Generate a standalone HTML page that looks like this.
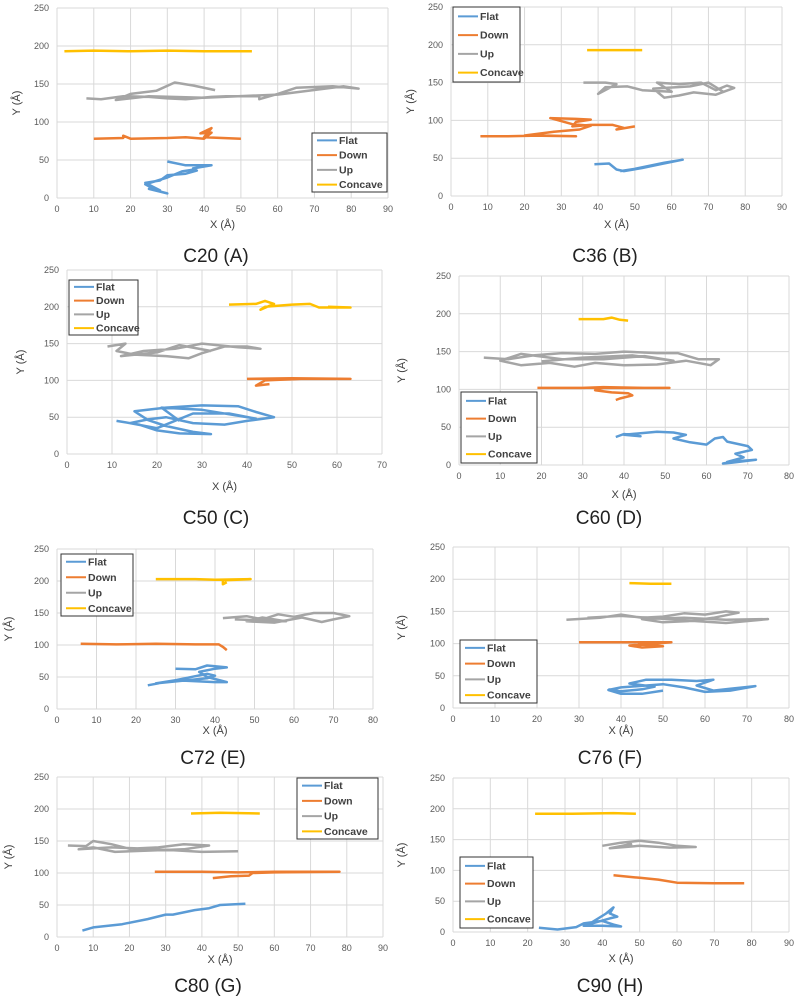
<!DOCTYPE html>
<html><head><meta charset="utf-8">
<style>
html,body{margin:0;padding:0;background:#fff;}
svg{display:block;font-family:"Liberation Sans",sans-serif;}
</style></head>
<body>
<svg id="fig" width="798" height="996" viewBox="0 0 798 996"></svg>
<script>
// ---- data (x, y in Å) ----
const A_flat=[[30,48],[35,43],[42,43],[37,39],[38,36],[35,32],[30,30],[28,23],[24,20],[26,15],[28,10],[25,12],[30,6],[27,10],[24,18],[30,27],[34,35],[38,38]];
const A_down=[[10,78],[18,79],[18,82],[20,78],[30,79],[35,80],[40,78],[42,86],[39,85],[42,92],[40,80],[50,78]];
const A_up=[[8,131],[12,130],[18,134],[25,133],[30,131],[35,130],[42,133],[46,134],[55,134],[55,130],[60,137],[65,145],[75,147],[82,144],[78,147],[60,136],[40,132],[25,134],[16,129],[20,137],[27,141],[32,152],[37,148],[43,142]];
const A_concave=[[2,193],[10,194],[20,193],[30,194],[40,193],[53,193]];

const B_flat=[[39,42],[43,43],[45,35],[47,33],[52,37],[57,42],[63,48],[58,44],[50,36],[46,33]];
const B_down=[[8,79],[15,79],[25,80],[34,79],[20,80],[28,85],[35,88],[38,93],[33,95],[27,103],[34,102],[38,101],[34,98],[33,92],[38,94],[44,94],[47,90],[45,88],[50,92]];
const B_up=[[36,150],[42,150],[45,148],[40,135],[42,144],[48,145],[52,140],[60,138],[56,150],[62,148],[68,150],[72,140],[75,146],[77,143],[72,134],[66,137],[62,133],[58,130],[55,142],[65,145],[70,150],[74,138]];
const B_concave=[[37,193],[45,193],[52,193]];

const C_flat=[[11,45],[16,40],[20,32],[25,28],[32,27],[28,30],[22,38],[18,46],[15,58],[22,63],[30,66],[38,65],[42,57],[46,50],[40,45],[35,40],[28,42],[22,50],[18,47],[14,42],[20,35],[28,55],[36,55],[42,48],[30,60],[21,63],[25,45]];
const C_down=[[40,102],[50,103],[63,102],[52,102],[44,100],[42,93],[45,95]];
const C_up=[[9,146],[13,150],[11,140],[15,135],[22,133],[27,130],[30,137],[35,146],[40,146],[43,143],[38,145],[30,150],[24,143],[17,140],[12,133],[20,138],[25,148],[32,140]];
const C_concave=[[36,203],[42,204],[44,208],[46,204],[43,196],[44,200],[50,203],[54,204],[56,199],[63,199],[58,200]];

const D_flat=[[38,37],[40,41],[44,38],[40,40],[48,44],[52,43],[55,40],[52,35],[56,30],[60,27],[62,35],[64,37],[65,31],[70,25],[71,20],[67,15],[69,10],[65,4],[72,7],[66,3],[64,2],[68,6]];
const D_down=[[19,102],[30,102],[35,103],[45,102],[51,102],[35,102],[33,99],[37,96],[41,95],[42,92],[39,88],[38,86]];
const D_up=[[6,142],[12,140],[18,145],[25,148],[33,147],[40,150],[48,148],[53,148],[58,140],[63,140],[61,132],[55,138],[48,133],[40,132],[33,135],[28,130],[22,135],[15,132],[10,138],[15,147],[25,140],[35,140],[45,144],[52,138],[42,145],[30,142],[20,137]];
const D_concave=[[29,193],[35,193],[37,195],[39,192],[41,191]];

const E_flat=[[23,37],[30,45],[38,55],[40,52],[38,48],[25,40],[30,45],[40,42],[43,42],[38,50],[36,58],[40,63],[43,65],[38,68],[35,62],[30,63]];
const E_down=[[6,102],[15,101],[25,102],[35,101],[41,101],[42,97],[43,92]];
const E_up=[[42,142],[48,145],[52,140],[56,148],[60,144],[65,150],[70,150],[74,145],[70,140],[67,136],[62,143],[55,135],[48,137],[52,143],[58,137],[45,140]];
const E_concave=[[25,203],[35,203],[40,202],[49,203],[42,201],[42,195],[43,198]];

const F_flat=[[37,29],[40,26],[45,29],[48,33],[42,38],[46,44],[52,44],[58,42],[62,44],[58,35],[62,27],[66,30],[72,34],[66,27],[60,25],[55,32],[50,37],[40,32],[37,28],[40,22],[45,22],[50,27]];
const F_down=[[30,102],[40,102],[52,102],[48,100],[42,97],[45,94],[50,96],[44,100]];
const F_up=[[27,137],[35,140],[40,145],[45,140],[50,142],[55,147],[60,145],[65,150],[68,148],[62,140],[56,135],[50,133],[45,138],[55,140],[65,137],[75,138],[65,132],[58,135],[40,143],[32,140]];
const F_concave=[[42,194],[47,193],[52,193]];

const G_flat=[[7,10],[10,15],[18,20],[25,28],[30,35],[32,35],[38,42],[42,45],[45,50],[52,52]];
const G_down=[[27,102],[40,102],[50,101],[60,102],[70,102],[78,102],[60,101],[54,100],[53,96],[48,95],[43,92]];
const G_up=[[3,143],[8,142],[10,150],[15,145],[20,138],[28,140],[35,145],[42,143],[35,137],[25,135],[16,133],[10,140],[6,137],[15,140],[25,138],[40,133],[50,134]];
const G_concave=[[37,193],[45,194],[56,193]];

const H_flat=[[23,7],[28,4],[33,8],[35,14],[40,18],[43,12],[45,9],[40,10],[35,10],[42,22],[44,25],[42,30],[43,40],[41,30],[37,15]];
const H_down=[[43,92],[50,88],[55,85],[60,80],[70,79],[78,79]];
const H_up=[[40,140],[45,145],[50,148],[55,145],[60,140],[65,138],[58,137],[50,140],[42,136],[48,143]];
const H_concave=[[22,192],[32,192],[43,193],[49,192]];

const seriesNames=["Flat","Down","Up","Concave"];
const yTicks=[0,50,100,150,200,250];
const captions=["C20 (A)","C36 (B)","C50 (C)","C60 (D)","C72 (E)","C76  (F)","C80 (G)","C90 (H)"];
const xMaxes=[90,90,70,80,80,80,90,90];

// ---- layout ----
const colors=["#5b9bd5","#ed7d31","#a5a5a5","#ffc000"];
const panels=[
 {id:"a",d:[A_flat,A_down,A_up,A_concave],l:57,r:388,t:8,b:198,xt:228,yt:20,cx:216,cy:255,lg:[312,133,75,59]},
 {id:"b",d:[B_flat,B_down,B_up,B_concave],l:451,r:782,t:7,b:196,xt:228,yt:414,cx:605,cy:255,lg:[453,7,67,75]},
 {id:"c",d:[C_flat,C_down,C_up,C_concave],l:67,r:382,t:270,b:454,xt:490,yt:24,cx:216,cy:517,lg:[69,280,69,55]},
 {id:"d",d:[D_flat,D_down,D_up,D_concave],l:459,r:789,t:276,b:465,xt:498,yt:405,cx:609,cy:517,lg:[461,392,76,71]},
 {id:"e",d:[E_flat,E_down,E_up,E_concave],l:57,r:373,t:549,b:709,xt:734,yt:12,cx:213,cy:757,lg:[61,554,72,62]},
 {id:"f",d:[F_flat,F_down,F_up,F_concave],l:453,r:789,t:547,b:708,xt:734,yt:405,cx:610,cy:757,lg:[460,640,77,63]},
 {id:"g",d:[G_flat,G_down,G_up,G_concave],l:57,r:383,t:777,b:937,xt:963,yt:12,cx:208,cy:985,lg:[297,778,81,61]},
 {id:"h",d:[H_flat,H_down,H_up,H_concave],l:453,r:789,t:778,b:932,xt:962,yt:405,cx:610,cy:985,lg:[460,857,73,71]}
];
const NS="http://www.w3.org/2000/svg";
const svg=document.getElementById("fig");
function mk(tag,attrs,parent,text){
  const e=document.createElementNS(NS,tag);
  for(const k in attrs)e.setAttribute(k,attrs[k]);
  if(text!==undefined)e.textContent=text;
  (parent||svg).appendChild(e);return e;
}
panels.forEach((p,i)=>{
  const xMax=xMaxes[i];
  const g=mk("g",{});
  
  
  const sx=v=>p.l+(v/xMax)*(p.r-p.l);
  const sy=v=>p.b-(v/250)*(p.b-p.t);
  for(let x=0;x<=xMax;x+=10){
    const ln=mk("line",{x1:sx(x),x2:sx(x),y1:p.t,y2:p.b,stroke:"#d9d9d9","stroke-width":1},g);
    
    
    const t=mk("text",{x:sx(x),y:p.b+14,"font-size":9,fill:"#595959","text-anchor":"middle"},g,String(x));
    
    
  }
  yTicks.forEach(v=>{
    const ln=mk("line",{x1:p.l,x2:p.r,y1:sy(v),y2:sy(v),stroke:"#d9d9d9","stroke-width":1},g);
    
    
    const t=mk("text",{x:p.l-8,y:sy(v)+3,"font-size":9,fill:"#595959","text-anchor":"end"},g,String(v));
    
    
  });
  p.d.forEach((arr,k)=>{
    const pl=mk("polyline",{points:arr.map(q=>sx(q[0]).toFixed(1)+","+sy(q[1]).toFixed(1)).join(" "),fill:"none",stroke:colors[k],"stroke-width":2.5,"stroke-linejoin":"round"},g);
    
    
  });
  const xt=mk("text",{x:(p.l+p.r)/2,y:p.xt,"font-size":11,fill:"#404040","text-anchor":"middle"},g,"X (Å)");
  
  
  const ym=(p.t+p.b)/2;
  const yt=mk("text",{x:p.yt,y:ym,"font-size":11,fill:"#404040","text-anchor":"middle",transform:"rotate(-90 "+p.yt+" "+ym+")"},g,"Y (Å)");
  
  
  const [lx,ly,lw,lh]=p.lg;
  const lgG=mk("g",{},g);
  
  
  mk("rect",{x:lx,y:ly,width:lw,height:lh,fill:"#fff",stroke:"#333","stroke-width":1},lgG);
  const step=lh/4;
  seriesNames.forEach((n,k)=>{
    const cy=ly+step*(k+0.5);
    const e=mk("g",{},lgG);
    
    
    mk("line",{x1:lx+5,x2:lx+25,y1:cy,y2:cy,stroke:colors[k],"stroke-width":2},e);
    mk("text",{x:lx+27,y:cy+3.5,"font-size":10.5,"font-weight":"bold",fill:"#404040"},e,n);
  });
  const cap=mk("text",{x:p.cx,y:p.cy+7,"font-size":19,fill:"#222","text-anchor":"middle"},g,captions[i]);
  
  
});
</script>
</body></html>
